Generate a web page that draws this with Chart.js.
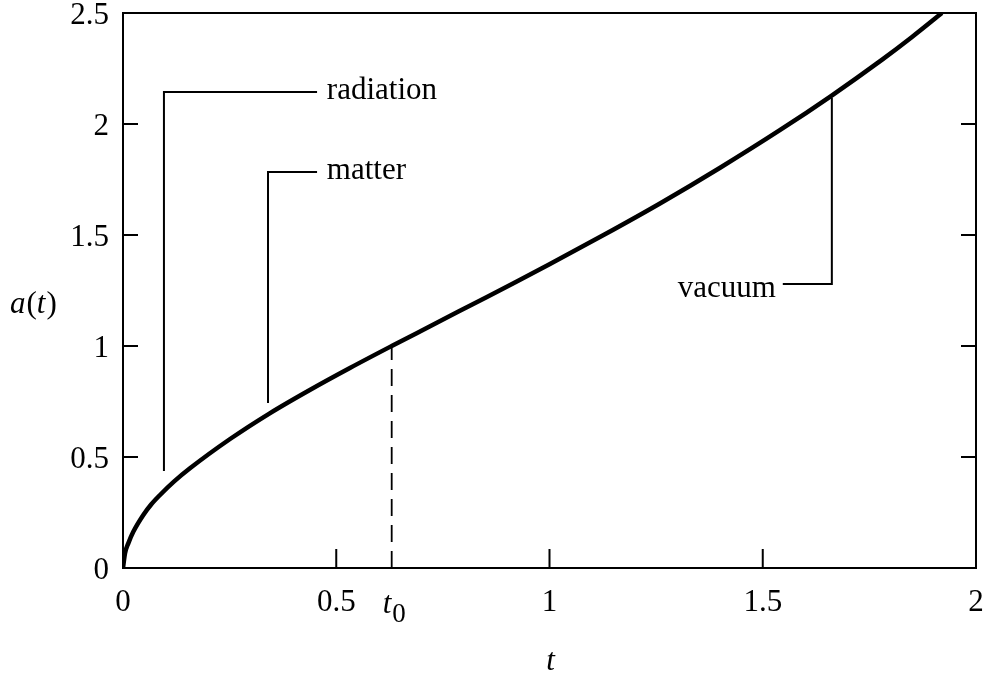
<!DOCTYPE html>
<html>
<head>
<meta charset="utf-8">
<title>a(t)</title>
<script src="https://cdn.jsdelivr.net/npm/chart.js@4.4.1/dist/chart.umd.min.js"></script>
<style>
    html, body { margin: 0; padding: 0; background: #fff; }
</style>
</head>
<body>
<canvas id="g1" width="987" height="677"></canvas>
<script>
// scale factor a(t) against time t
var times = [0, 0.0047, 0.0124, 0.0241, 0.0476, 0.066, 0.0868, 0.12, 0.157, 0.251, 0.345, 0.438, 0.532, 0.63,
    0.72, 0.82, 0.92, 1.0, 1.13, 1.26, 1.4, 1.54, 1.66, 1.78, 1.85, 1.92];
var scaleFactor = [0, 0.066, 0.111, 0.163, 0.239, 0.286, 0.329, 0.39, 0.449, 0.581, 0.698, 0.802, 0.901, 1.0,
    1.089, 1.188, 1.287, 1.368, 1.503, 1.643, 1.803, 1.972, 2.126, 2.29, 2.392, 2.5];

// present time and a(t0)
var tNow = 0.63;
var aNow = 1;

var xTicks = [0, 0.5, 1, 1.5, 2];
var yTicks = [0, 0.5, 1, 1.5, 2, 2.5];

// era labels: leader line path (t, a) and where the word sits
var eras = ['radiation', 'matter', 'vacuum'];
var eraPaths = [
    [[0.096, 0.437], [0.096, 2.144], [0.455, 2.144]],
    [[0.34, 0.743], [0.34, 1.784], [0.455, 1.784]],
    [[1.662, 2.117], [1.662, 1.279], [1.547, 1.279]]
];
var eraText = [[0.478, 2.144, 'left'], [0.478, 1.784, 'left'], [1.531, 1.279, 'right']];

var SERIF = "'Liberation Serif', 'Times New Roman', serif";
var FS = 31;

var curve = times.map(function (t, i) { return {x: t, y: scaleFactor[i]}; });

var frame = {
    id: 'frame',
    afterDraw: function (chart) {
        var ctx = chart.ctx, a = chart.chartArea;
        var xs = chart.scales.x, ys = chart.scales.y;
        ctx.save();
        ctx.strokeStyle = '#000';
        ctx.lineWidth = 2;
        ctx.strokeRect(a.left, a.top, a.right - a.left, a.bottom - a.top);

        // inward ticks
        ctx.beginPath();
        xTicks.forEach(function (v) {
            if (v <= xs.min || v >= xs.max) return;
            var px = xs.getPixelForValue(v);
            ctx.moveTo(px, a.bottom);
            ctx.lineTo(px, a.bottom - 19);
        });
        yTicks.forEach(function (v) {
            if (v <= ys.min || v >= ys.max) return;
            var py = ys.getPixelForValue(v);
            ctx.moveTo(a.left, py);
            ctx.lineTo(a.left + 15, py);
            ctx.moveTo(a.right, py);
            ctx.lineTo(a.right - 15, py);
        });
        ctx.stroke();

        // leader lines
        ctx.beginPath();
        eraPaths.forEach(function (path) {
            path.forEach(function (p, k) {
                var px = xs.getPixelForValue(p[0]), py = ys.getPixelForValue(p[1]);
                if (k === 0) ctx.moveTo(px, py); else ctx.lineTo(px, py);
            });
        });
        ctx.stroke();

        ctx.fillStyle = '#000';
        ctx.font = FS + 'px ' + SERIF;
        ctx.textBaseline = 'alphabetic';
        eras.forEach(function (name, i) {
            var p = eraText[i];
            ctx.textAlign = p[2];
            var off = name === 'vacuum' ? 13 : 7;
            ctx.fillText(name, xs.getPixelForValue(p[0]), ys.getPixelForValue(p[1]) + off);
        });

        // t0 under the dashed line
        ctx.textAlign = 'left';
        var tx = xs.getPixelForValue(tNow) - 9;
        ctx.font = 'italic ' + FS + 'px ' + SERIF;
        ctx.fillText('t', tx, a.bottom + 45);
        var tw = ctx.measureText('t').width;
        ctx.font = Math.round(FS * 0.88) + 'px ' + SERIF;
        ctx.fillText('0', tx + tw + 1, a.bottom + 54);

        // axis titles
        ctx.font = 'italic ' + FS + 'px ' + SERIF;
        ctx.textAlign = 'center';
        ctx.fillText('t', (a.left + a.right) / 2 + 1, 670);

        var parts = [['a', true], ['(', false], ['t', true], [')', false]];
        var x = 10;
        ctx.textAlign = 'left';
        parts.forEach(function (s) {
            ctx.font = (s[1] ? 'italic ' : '') + FS + 'px ' + SERIF;
            ctx.fillText(s[0], x, 313);
            x += ctx.measureText(s[0]).width + (s[1] ? 1 : 0);
        });
        ctx.restore();
    }
};

new Chart(document.getElementById('g1'), {
    type: 'line',
    data: {
        datasets: [
            {
                label: 'a(t)',
                data: curve,
                borderColor: '#000',
                borderWidth: 4.5,
                pointRadius: 0,
                cubicInterpolationMode: 'monotone',
                fill: false
            },
            {
                label: 't0',
                data: [{x: tNow, y: 0}, {x: tNow, y: aNow}],
                borderColor: '#000',
                borderWidth: 1.8,
                borderDash: [17, 9],
                pointRadius: 0,
                fill: false
            }
        ]
    },
    options: {
        responsive: false,
        animation: false,
        layout: {padding: {top: 13, right: 11, left: 0, bottom: 0}},
        plugins: {legend: {display: false}, tooltip: {enabled: false}},
        scales: {
            x: {
                type: 'linear',
                min: 0,
                max: 2,
                grid: {display: false, drawTicks: false},
                border: {display: false},
                afterBuildTicks: function (s) { s.ticks = xTicks.map(function (v) { return {value: v}; }); },
                afterFit: function (s) { s.height = 109; s.paddingLeft = 0; s.paddingRight = 0; },
                ticks: {
                    color: '#000',
                    padding: 16,
                    maxRotation: 0,
                    font: {family: SERIF, size: FS},
                    callback: function (v) { return String(v); }
                }
            },
            y: {
                min: 0,
                max: 2.5,
                grid: {display: false, drawTicks: false},
                border: {display: false},
                afterBuildTicks: function (s) { s.ticks = yTicks.map(function (v) { return {value: v}; }); },
                afterFit: function (s) { s.width = 123; s.paddingTop = 0; s.paddingBottom = 0; },
                ticks: {
                    color: '#000',
                    padding: 14,
                    labelOffset: 3,
                    font: {family: SERIF, size: FS},
                    callback: function (v) { return String(v); }
                }
            }
        }
    },
    plugins: [frame]
});
</script>
</body>
</html>
